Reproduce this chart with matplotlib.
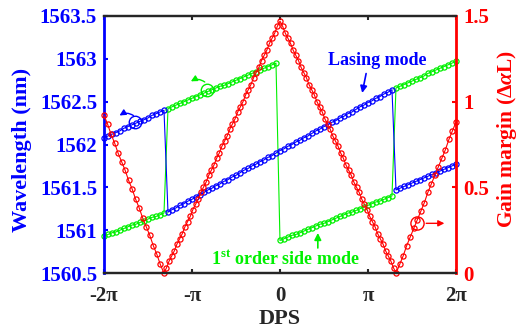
import numpy as np
import matplotlib.pyplot as plt

plt.rcParams['font.family'] = 'Liberation Serif'
plt.rcParams['font.weight'] = 'bold'
plt.rcParams['mathtext.fontset'] = 'custom'
plt.rcParams['mathtext.rm'] = 'Liberation Serif:bold'
plt.rcParams['mathtext.bf'] = 'Liberation Serif:bold'
plt.rcParams['mathtext.it'] = 'Liberation Serif:bold:italic'

# DPS sweep, in units of pi (89 evenly spaced samples)
dps = np.linspace(-2, 2, 89)

# lasing mode wavelength (nm)
lasing = [1562.08, 1562.10, 1562.12, 1562.14, 1562.16, 1562.19, 1562.21, 1562.23,
          1562.25, 1562.27, 1562.29, 1562.31, 1562.34, 1562.36, 1562.38, 1562.40,
          1561.21, 1561.24, 1561.26, 1561.29, 1561.31, 1561.34, 1561.36, 1561.39,
          1561.41, 1561.44, 1561.47, 1561.49, 1561.52, 1561.54, 1561.57, 1561.59,
          1561.62, 1561.64, 1561.67, 1561.70, 1561.72, 1561.75, 1561.77, 1561.80,
          1561.82, 1561.85, 1561.87, 1561.90, 1561.93, 1561.95, 1561.98, 1562.00,
          1562.03, 1562.05, 1562.08, 1562.10, 1562.13, 1562.16, 1562.18, 1562.21,
          1562.23, 1562.26, 1562.28, 1562.31, 1562.33, 1562.36, 1562.38, 1562.41,
          1562.44, 1562.46, 1562.49, 1562.51, 1562.54, 1562.56, 1562.59, 1562.61,
          1562.64,
          1561.47, 1561.49, 1561.51, 1561.53, 1561.55, 1561.57, 1561.59, 1561.61,
          1561.63, 1561.65, 1561.67, 1561.69, 1561.71, 1561.73, 1561.75, 1561.77]

# 1st order side mode wavelength (nm)
side = [1560.93, 1560.95, 1560.97, 1560.98, 1561.00, 1561.02, 1561.04, 1561.06,
        1561.07, 1561.09, 1561.11, 1561.13, 1561.15, 1561.16, 1561.18, 1561.20,
        1562.42, 1562.44, 1562.46, 1562.48, 1562.50, 1562.52, 1562.54, 1562.56,
        1562.58, 1562.60, 1562.62, 1562.64, 1562.66, 1562.68, 1562.69, 1562.71,
        1562.73, 1562.75, 1562.77, 1562.79, 1562.81, 1562.83, 1562.85, 1562.87,
        1562.89, 1562.91, 1562.93, 1562.95,
        1560.88, 1560.90, 1560.92, 1560.94, 1560.95, 1560.97, 1560.99, 1561.01,
        1561.03, 1561.05, 1561.07, 1561.08, 1561.10, 1561.12, 1561.14, 1561.16,
        1561.18, 1561.20, 1561.21, 1561.23, 1561.25, 1561.27, 1561.29, 1561.31,
        1561.33, 1561.34, 1561.36, 1561.38, 1561.40,
        1562.66, 1562.68, 1562.70, 1562.72, 1562.74, 1562.76, 1562.78, 1562.80,
        1562.83, 1562.85, 1562.87, 1562.89, 1562.91, 1562.93, 1562.95, 1562.97]

# gain margin is sampled on its own DPS grid (units of pi)
gm_dps = np.concatenate([np.arange(-2.00, -1.319, 0.04), np.arange(-1.29, 0.001, 0.03),
                         np.arange(0.03, 1.321, 0.03), np.arange(1.36, 2.001, 0.04)])
gain = [0.92, 0.87, 0.81, 0.76, 0.70, 0.65, 0.60, 0.54, 0.49, 0.43, 0.38, 0.32,
        0.27, 0.22, 0.16, 0.11, 0.05, 0.00,
        0.03, 0.07, 0.10, 0.13, 0.17, 0.20, 0.23, 0.27, 0.30, 0.33, 0.37, 0.40,
        0.43, 0.47, 0.50, 0.53, 0.57, 0.60, 0.63, 0.67, 0.70, 0.74, 0.77, 0.80,
        0.84, 0.87, 0.90, 0.94, 0.97, 1.00, 1.04, 1.07, 1.10, 1.14, 1.17, 1.20,
        1.24, 1.27, 1.30, 1.34, 1.37, 1.40, 1.44, 1.47,
        1.44, 1.40, 1.37, 1.34, 1.30, 1.27, 1.24, 1.20, 1.17, 1.14, 1.10, 1.07,
        1.04, 1.00, 0.97, 0.94, 0.90, 0.87, 0.84, 0.80, 0.77, 0.74, 0.70, 0.67,
        0.63, 0.60, 0.57, 0.53, 0.50, 0.47, 0.43, 0.40, 0.37, 0.33, 0.30, 0.27,
        0.23, 0.20, 0.17, 0.13, 0.10, 0.07, 0.03, 0.00,
        0.05, 0.10, 0.16, 0.21, 0.26, 0.31, 0.36, 0.41, 0.47, 0.52, 0.57, 0.62,
        0.67, 0.72, 0.78, 0.83, 0.88]

xtick_pos = [-2, -1, 0, 1, 2]
xtick_lab = ['-2π', '-π', '0', 'π', '2π']

BLUE = '#0000ff'
GREEN = '#00f000'
RED = '#ff0000'
DARK = '#262626'

fig = plt.figure(figsize=(5.21, 3.34), dpi=100)
ax = fig.add_axes([0.1996, 0.1826, 0.6756, 0.7695])
ax2 = ax.twinx()

mk = dict(marker='o', ms=3.7, mfc='none', mew=0.9, lw=0.8, clip_on=False)
ax.plot(dps * np.pi, lasing, color=BLUE, zorder=3, **mk)
ax.plot(dps * np.pi, side, color=GREEN, zorder=2, **mk)
ax2.plot(gm_dps * np.pi, gain, color=RED, **mk)

ax.set_xlim(-2 * np.pi, 2 * np.pi)
ax.set_ylim(1560.5, 1563.5)
ax2.set_ylim(0, 1.5)
ax.set_xticks(np.array(xtick_pos) * np.pi)
ax.set_xticklabels(xtick_lab)
ax.set_yticks([1560.5, 1561, 1561.5, 1562, 1562.5, 1563, 1563.5])
ax.set_yticklabels(['1560.5', '1561', '1561.5', '1562', '1562.5', '1563', '1563.5'])
ax2.set_yticks([0, 0.5, 1, 1.5])
ax2.set_yticklabels(['0', '0.5', '1', '1.5'])

# spines and ticks
for a in (ax, ax2):
    a.spines['top'].set_color(DARK)
    a.spines['bottom'].set_color(DARK)
    a.spines['top'].set_linewidth(1.6)
    a.spines['bottom'].set_linewidth(1.6)
ax.spines['left'].set_color(BLUE)
ax.spines['left'].set_linewidth(2)
ax.spines['right'].set_visible(False)
ax2.spines['left'].set_visible(False)
ax2.spines['right'].set_color(RED)
ax2.spines['right'].set_linewidth(2)

ax.tick_params(axis='x', direction='in', length=3, width=1.5, color=DARK, top=True,
               labelsize=15, pad=9, labelcolor=DARK)
ax.tick_params(axis='y', direction='in', length=3, width=1.5, color=BLUE,
               labelsize=15, pad=5, labelcolor=BLUE)
ax2.tick_params(axis='y', direction='in', length=3, width=1.5, color=RED,
                labelsize=15, pad=5, labelcolor=RED)

ax.set_xlabel('DPS', fontsize=16, fontweight='bold', color=DARK)
ax.xaxis.set_label_coords(0.5, -0.14)
ax.set_ylabel('Wavelength (nm)', fontsize=16, fontweight='bold', color=BLUE)
ax.yaxis.set_label_coords(-0.205, 0.48)
ax2.set_ylabel('Gain margin (Δ$\\alpha$L)', fontsize=15.5, fontweight='bold', color=RED)
ax2.yaxis.set_label_coords(1.112, 0.52)

# curve annotations
ax.text(1.108 * np.pi, 1562.93, 'Lasing mode', color=BLUE, fontsize=13,
        fontweight='bold', ha='center', va='baseline')
ax.annotate('', xy=(0.928 * np.pi, 1562.57), xytext=(0.985 * np.pi, 1562.86),
            arrowprops=dict(arrowstyle='-|>', color=BLUE, lw=1.2, mutation_scale=10))
ax.text(0.057 * np.pi, 1560.605, '1$^{\\mathbf{st}}$ order side mode', color=GREEN,
        fontsize=13, fontweight='bold', ha='center', va='baseline')
ax.annotate('', xy=(0.43 * np.pi, 1561.0), xytext=(0.43 * np.pi, 1560.76),
            arrowprops=dict(arrowstyle='-|>', color=GREEN, lw=1.2, mutation_scale=10))

# axis indicators: circle on the curve with an arrow to its axis
ax.plot(-1.648 * np.pi, 1562.26, 'o', ms=9, mfc='none', mec=BLUE, mew=1)
ax.annotate('', xy=(-1.85 * np.pi, 1562.32), xytext=(-1.64 * np.pi, 1562.32),
            arrowprops=dict(arrowstyle='-|>', color=BLUE, lw=1, mutation_scale=9,
                            connectionstyle='arc3,rad=0.4'))
ax.plot(-0.833 * np.pi, 1562.64, 'o', ms=9, mfc='none', mec=GREEN, mew=1)
ax.annotate('', xy=(-1.04 * np.pi, 1562.72), xytext=(-0.83 * np.pi, 1562.71),
            arrowprops=dict(arrowstyle='-|>', color=GREEN, lw=1, mutation_scale=9,
                            connectionstyle='arc3,rad=0.4'))
ax2.plot(1.557 * np.pi, 0.29, 'o', ms=9.5, mfc='none', mec=RED, mew=1)
ax2.annotate('', xy=(1.9 * np.pi, 0.29), xytext=(1.63 * np.pi, 0.29),
             arrowprops=dict(arrowstyle='-|>', color=RED, lw=1, mutation_scale=9))

plt.savefig('out.png', dpi=100)
